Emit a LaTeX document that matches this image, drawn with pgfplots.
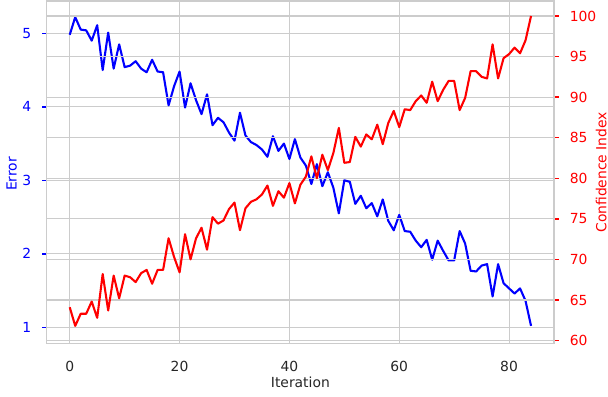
\documentclass[border=0pt]{standalone}
\usepackage{fontspec}
\setmainfont{DejaVu Sans}
\usepackage{pgfplots}
\pgfplotsset{compat=1.18}
\definecolor{gridc}{HTML}{CCCCCC}
\definecolor{txt}{HTML}{262626}
\begin{document}
\begin{tikzpicture}
\begin{axis}[
  at={(0,0)}, anchor=south west,
  scale only axis, width=365.3pt, height=246.6pt,
  xmin=-4.2, xmax=88.2, ymin=0.78, ymax=5.44,
  xtick={0,20,40,60,80}, ytick={1,2,3,4,5},
  grid=major, major grid style={gridc, line width=0.8pt},
  axis line style={gridc, line width=1pt},
  tick align=outside, ytick pos=left, xtick pos=bottom,
  xtick style={draw=none},
  ytick style={blue, line width=1pt},
  major tick length=3.2pt,
  /pgf/number format/assume math mode=true,
  xticklabel style={text=txt, inner sep=0pt, anchor=north, yshift=-9.5pt},
  yticklabel style={text=blue, inner sep=0pt, anchor=east, xshift=-7.7pt},
  xlabel={Iteration},
  xlabel style={text=txt, inner sep=0pt, anchor=north, at={([yshift=-23.9pt]axis description cs:0.5,0)}},
  ylabel={Error},
  ylabel style={text=blue, inner sep=0pt, anchor=south, at={([xshift=-21.2pt, yshift=-1.3pt]axis description cs:0,0.5)}},
]
\addplot[blue, line width=1.5pt, line join=round] coordinates {
(0,4.98) (1,5.22) (2,5.05) (3,5.04) (4,4.90) (5,5.11) (6,4.50) (7,5.01) (8,4.52) (9,4.85)
(10,4.54) (11,4.56) (12,4.62) (13,4.52) (14,4.47) (15,4.64) (16,4.48) (17,4.47) (18,4.02) (19,4.28)
(20,4.48) (21,3.99) (22,4.32) (23,4.09) (24,3.90) (25,4.17) (26,3.75) (27,3.85) (28,3.79) (29,3.65)
(30,3.54) (31,3.92) (32,3.61) (33,3.52) (34,3.48) (35,3.42) (36,3.32) (37,3.60) (38,3.40) (39,3.50)
(40,3.29) (41,3.56) (42,3.31) (43,3.20) (44,2.95) (45,3.22) (46,2.92) (47,3.11) (48,2.90) (49,2.55)
(50,3.00) (51,2.98) (52,2.68) (53,2.79) (54,2.62) (55,2.69) (56,2.51) (57,2.74) (58,2.45) (59,2.32)
(60,2.53) (61,2.31) (62,2.30) (63,2.18) (64,2.09) (65,2.19) (66,1.92) (67,2.18) (68,2.04) (69,1.91)
(70,1.91) (71,2.31) (72,2.14) (73,1.77) (74,1.76) (75,1.84) (76,1.86) (77,1.42) (78,1.86) (79,1.60)
(80,1.53) (81,1.46) (82,1.53) (83,1.36) (84,1.02)
};
\end{axis}
\begin{axis}[
  at={(0,0)}, anchor=south west,
  scale only axis, width=365.3pt, height=246.6pt,
  xmin=-4.2, xmax=88.2, ymin=59.63, ymax=101.85,
  hide x axis,
  ytick={60,65,70,75,80,85,90,95,100},
  ymajorgrids, major grid style={gridc, line width=0.8pt},
  axis line style={gridc, line width=1pt},
  tick align=outside, ytick pos=right, yticklabel pos=right,
  ytick style={red, line width=1pt},
  major tick length=3.2pt,
  /pgf/number format/assume math mode=true,
  yticklabel style={text=red, inner sep=0pt, anchor=west, xshift=7.9pt},
  ylabel={Confidence Index},
  ylabel style={text=red, inner sep=0pt, anchor=south, at={([xshift=37.9pt]axis description cs:1,0.5)}},
]
\addplot[red, line width=1.5pt, line join=round] coordinates {
(0,64.1) (1,61.8) (2,63.3) (3,63.3) (4,64.8) (5,62.8) (6,68.2) (7,63.7) (8,68.0) (9,65.2)
(10,68.0) (11,67.8) (12,67.2) (13,68.3) (14,68.7) (15,67.0) (16,68.7) (17,68.7) (18,72.6) (19,70.3)
(20,68.4) (21,73.1) (22,70.0) (23,72.6) (24,73.9) (25,71.2) (26,75.2) (27,74.4) (28,74.8) (29,76.2)
(30,77.0) (31,73.6) (32,76.3) (33,77.1) (34,77.4) (35,78.0) (36,79.1) (37,76.6) (38,78.4) (39,77.6)
(40,79.4) (41,76.9) (42,79.2) (43,80.2) (44,82.7) (45,80.0) (46,82.9) (47,81.0) (48,83.1) (49,86.2)
(50,81.9) (51,82.0) (52,85.1) (53,83.9) (54,85.4) (55,84.8) (56,86.6) (57,84.2) (58,86.8) (59,88.3)
(60,86.3) (61,88.5) (62,88.4) (63,89.5) (64,90.2) (65,89.3) (66,91.9) (67,89.5) (68,90.9) (69,92.0)
(70,92.0) (71,88.4) (72,89.9) (73,93.2) (74,93.2) (75,92.5) (76,92.3) (77,96.5) (78,92.3) (79,94.8)
(80,95.3) (81,96.1) (82,95.4) (83,97.0) (84,100.0)
};
\end{axis}
\pgfresetboundingbox
\path (-33.6pt,-37.8pt) rectangle (404.1pt,247.3pt);
\end{tikzpicture}
\end{document}
